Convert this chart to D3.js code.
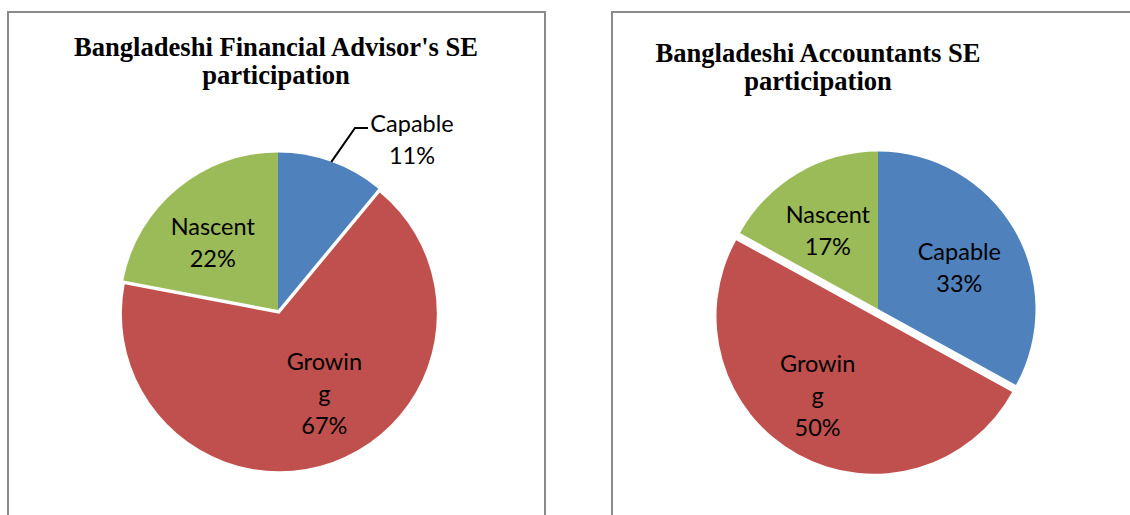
<!DOCTYPE html>
<html>
<head>
<meta charset="utf-8">
<script src="https://cdn.jsdelivr.net/npm/d3@7"></script>
<style>
  body { margin: 0; background: #fff; }
  svg { display: block; }
</style>
</head>
<body>
<div id="main"></div>
<script>
/*********************************************************
 * Data
 *********************************************************/
const categories = ['Capable', 'Growing', 'Nascent'];
// Excel wraps "Growing" inside the slice
const labelNames = [['Capable'], ['Growin', 'g'], ['Nascent']];
const advisorShares = [11, 67, 22];
const accountantShares = [33, 50, 17];
const advisorTitle = ["Bangladeshi Financial Advisor's SE", 'participation'];
const accountantTitle = ['Bangladeshi Accountants SE', 'participation'];

/*********************************************************
 * Layout
 *********************************************************/
const svgWidth = 1130;
const svgHeight = 515;
const colors = ['#4F81BD', '#C0504D', '#9BBB59'];
const radius = 157.5;
const lineHeight = 32;

const panels = [
  {
    x: 8, y: 12, w: 537,
    title: advisorTitle, titleX: 276, titleY: 56,
    values: advisorShares,
    cx: 278, cy: 310,
    explode: [0, 4, 0],
    // small nudges so labels sit where Excel put them
    nudge: [[0, 0], [13, -9], [-5, 6]],
    // slice 0 label sits outside with a leader line
    outside: { 0: { dx: 134, dy: -170, elbow: [77, -182], end: [90, -182] } }
  },
  {
    x: 612, y: 12, w: 560,
    title: accountantTitle, titleX: 818, titleY: 62,
    values: accountantShares,
    cx: 878, cy: 309,
    explode: [0, 8, 0],
    nudge: [[0, 7], [-11, -3], [-2, 3]],
    outside: {}
  }
];

const svg = d3
  .select('#main')
  .append('svg')
  .attr('width', svgWidth)
  .attr('height', svgHeight);

const pie = d3.pie().sort(null).value(d => d);
const arc = d3.arc().innerRadius(0).outerRadius(radius);
const labelArc = d3.arc().innerRadius(radius * 0.6).outerRadius(radius * 0.6);

panels.forEach(p => {
  // panel frame (bottom runs off the picture)
  svg.append('path')
    .attr('d', `M${p.x},${svgHeight + 5}V${p.y}H${p.x + p.w}V${svgHeight + 5}`)
    .attr('fill', 'none')
    .attr('stroke', '#8a8a8a')
    .attr('stroke-width', 2);

  // title
  const title = svg.append('text')
    .attr('x', p.titleX)
    .attr('y', p.titleY)
    .attr('text-anchor', 'middle')
    .style('font-family', '"Liberation Serif", "Times New Roman", serif')
    .style('font-weight', 'bold')
    .style('font-size', '26.6px')
    .style('fill', '#000');
  p.title.forEach((t, i) => {
    title.append('tspan')
      .attr('x', p.titleX)
      .attr('dy', i === 0 ? 0 : 28)
      .text(t);
  });

  const g = svg.append('g')
    .attr('transform', `translate(${p.cx},${p.cy})`);

  const arcs = pie(p.values);

  const shift = (d, i) => {
    const a = (d.startAngle + d.endAngle) / 2;
    return [Math.sin(a) * p.explode[i], -Math.cos(a) * p.explode[i]];
  };

  g.selectAll('.slice')
    .data(arcs)
    .enter()
    .append('path')
    .attr('class', 'slice')
    .attr('transform', (d, i) => `translate(${shift(d, i)})`)
    .attr('d', arc)
    .style('fill', (d, i) => colors[i]);

  arcs.forEach((d, i) => {
    const off = shift(d, i);
    const lines = labelNames[i].concat([d.data + '%']);
    let pos;
    const o = p.outside[i];
    if (o) {
      // leader line from slice edge
      const a = (d.startAngle + d.endAngle) / 2;
      const start = [Math.sin(a) * radius, -Math.cos(a) * radius];
      g.append('path')
        .attr('d', d3.line()([start, o.elbow, o.end]))
        .attr('fill', 'none')
        .attr('stroke', '#000')
        .attr('stroke-width', 2);
      pos = [o.dx, o.dy];
    } else {
      const c = labelArc.centroid(d);
      pos = [c[0] + off[0] + p.nudge[i][0], c[1] + off[1] + p.nudge[i][1]];
    }
    const top = pos[1] - (lines.length - 1) * lineHeight / 2;
    const txt = g.append('text')
      .attr('text-anchor', 'middle')
      .style('font-family', 'Lato, "Open Sans", sans-serif')
      .style('font-size', '23.5px')
      .style('fill', '#000');
    lines.forEach((t, j) => {
      txt.append('tspan')
        .attr('x', pos[0])
        .attr('y', top + j * lineHeight)
        .attr('dy', '0.35em')
        .text(t);
    });
  });
});
</script>
</body>
</html>
